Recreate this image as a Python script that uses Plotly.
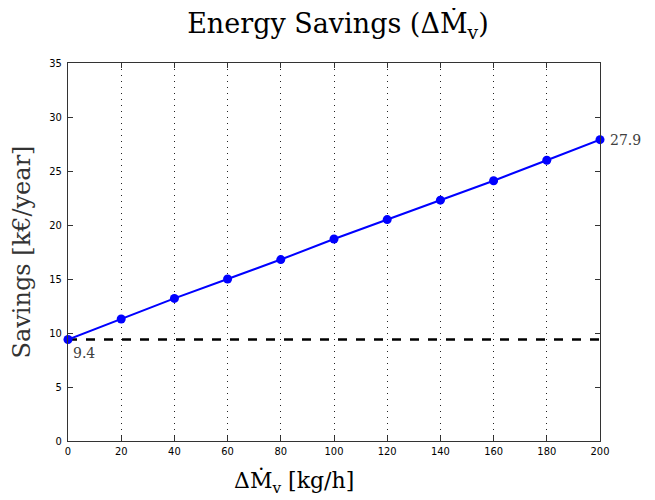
import plotly.graph_objects as go

flow = [0, 20, 40, 60, 80, 100, 120, 140, 160, 180, 200]
savings = [9.4, 11.3, 13.2, 15.0, 16.8, 18.7, 20.5, 22.3, 24.1, 26.0, 27.9]
baseline = 9.4
x_ticks = list(range(0, 201, 20))
y_ticks = list(range(0, 36, 5))

fig = go.Figure()
fig.add_trace(go.Scatter(x=[flow[0], flow[-1]], y=[baseline, baseline], mode="lines",
                         line=dict(color="black", width=2.5, dash="dash"), showlegend=False))
fig.add_trace(go.Scatter(x=flow, y=savings, mode="lines+markers",
                         line=dict(color="#0000ff", width=2),
                         marker=dict(color="#0000ff", size=9), showlegend=False, cliponaxis=False))

fig.add_annotation(x=flow[0], y=savings[0], text=f"{savings[0]}", showarrow=False,
                   xanchor="left", yanchor="top", xshift=3, yshift=-4,
                   font=dict(family="DejaVu Serif", size=14, color="#404040"))
fig.add_annotation(x=flow[-1], y=savings[-1], text=f"{savings[-1]}", showarrow=False,
                   xanchor="left", yanchor="middle", xshift=8,
                   font=dict(family="DejaVu Serif", size=14, color="#404040"))

# x-axis title (sits left of centre in the reference)
fig.add_annotation(xref="paper", yref="paper", x=0.425, y=-0.108, text="ΔṀ<sub>v</sub> [kg/h]",
                   showarrow=False, xanchor="center", yanchor="middle",
                   font=dict(family="DejaVu Serif", size=22, color="black"))

axis_common = dict(showline=True, linecolor="#333333", linewidth=1, mirror="ticks",
                   ticks="inside", ticklen=5, tickcolor="#333333", zeroline=False,
                   tickfont=dict(family="Liberation Sans Narrow, DejaVu Sans Condensed, sans-serif",
                                 size=11, color="black"))

fig.update_xaxes(range=[0, 200], tickvals=x_ticks, showgrid=True, gridcolor="#222222",
                 griddash="1px,5px", gridwidth=1, **axis_common)
fig.update_yaxes(range=[0, 35], tickvals=y_ticks, showgrid=False, ticklabelstandoff=3,
                 title=dict(text="Savings [k€/year]", standoff=12,
                            font=dict(family="DejaVu Serif", size=24, color="#333333")),
                 **axis_common)

# page body has an 8px default margin; size/margins compensate for it
fig.update_layout(
    width=647, height=492,
    margin=dict(l=60, r=55, t=55, b=59),
    paper_bgcolor="white", plot_bgcolor="white",
    title=dict(text="Energy Savings (ΔṀ<sub>v</sub>)", x=0.51, xanchor="center", y=0.968, yanchor="middle",
               font=dict(family="DejaVu Serif", size=27, color="black")),
)

fig.write_html("out.html")
